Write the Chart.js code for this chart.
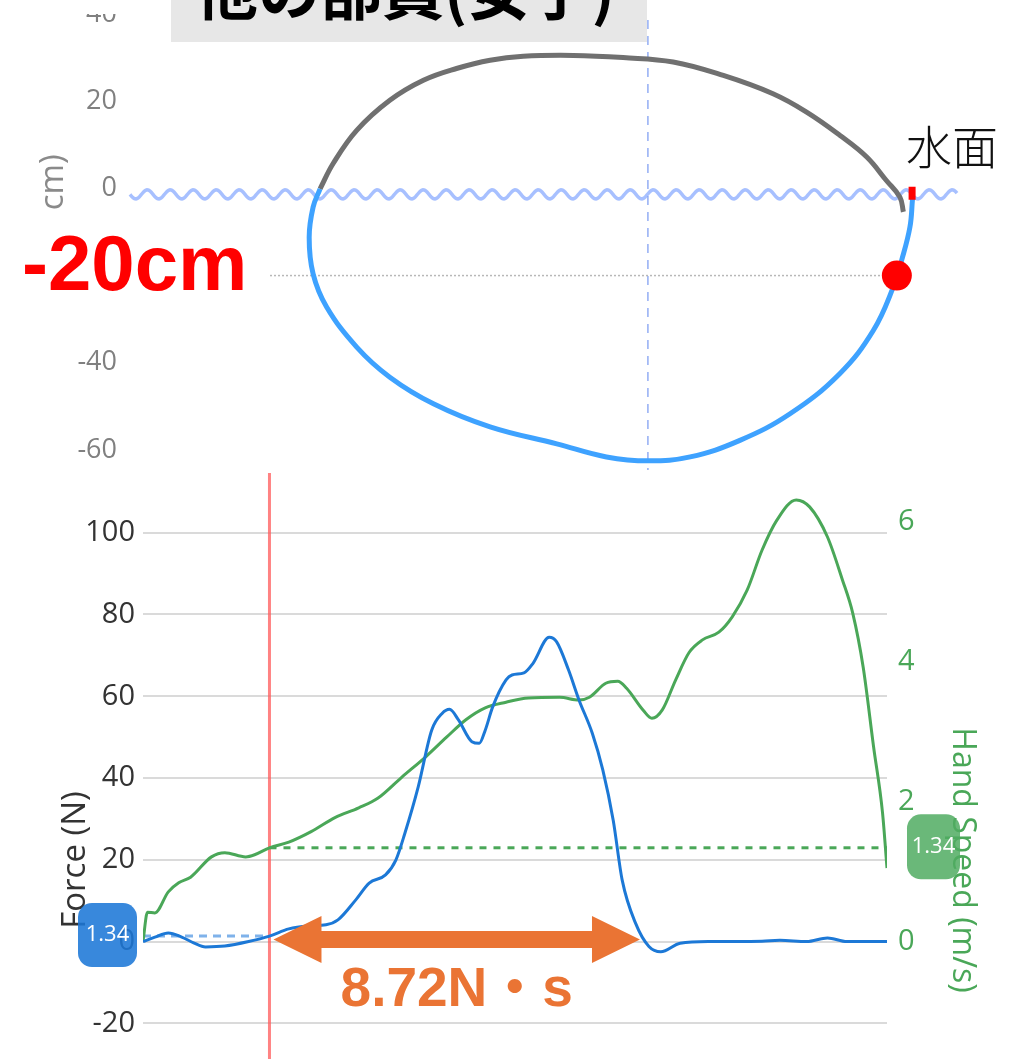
<!DOCTYPE html>
<html>
<head>
<meta charset="utf-8">
<script src="https://cdn.jsdelivr.net/npm/chart.js@4.4.1/dist/chart.umd.min.js"></script>
<style>
  html, body { margin: 0; padding: 0; background: #fff; width: 1012px; height: 1059px; overflow: hidden; position: relative; }
  #pathChart { position: absolute; left: 0; top: 14px; }
  #forceChart { position: absolute; left: 0; top: 473px; }
  #titleBox { position: absolute; left: 171px; top: 0; }
</style>
</head>
<body>
<canvas id="pathChart" width="1012" height="456"></canvas>
<canvas id="forceChart" width="1012" height="774"></canvas>
<svg id="titleBox" width="476" height="42">
  <rect width="476" height="42" fill="#e7e7e7"/>
  <text x="25" y="15" font-family="'Noto Sans CJK JP', sans-serif" font-weight="700" font-size="62" fill="#000">他の部員(女子)</text>
</svg>
<script>
const FONT = "'Open Sans', 'Noto Sans', sans-serif";

// ---- Hand path (cm): horizontal position, height ----
const airX = [-75.2, -72.2, -66.8, -59.2, -51.5, -43.9, -36.2, -28.6, -17.1, -5.7, 5.8, 17.3, 28.7, 36.4, 44.0, 50.2, 54.7, 57.8, 58.6];
const airY = [-0.1, 5.7, 13.3, 20.2, 24.8, 27.5, 29.4, 30.3, 30.5, 30.0, 29.0, 25.9, 21.7, 17.5, 12.2, 7.2, 1.8, -2.0, -5.4];
const waterX = [60.7, 60.1, 58.2, 56.3, 51.7, 44.0, 32.6, 21.1, 9.7, 0.1, -9.5, -20.9, -36.2, -49.2, -59.2, -66.8, -73.7, -76.8, -77.7, -76.8, -75.2];
const waterY = [-2.4, -8.9, -16.5, -22.6, -32.6, -42.5, -51.7, -57.8, -61.6, -62.5, -61.6, -58.6, -54.7, -49.4, -43.3, -36.4, -27.2, -19.6, -11.2, -4.3, -0.1];
const entryX = [60.6, 60.6];
const entryY = [0.4, -2.6];
const markerDepth = -20;
const markerX = 57.1;
const depthLineEnd = 55.5;
const depthLabel = '-20cm';
const surfaceLabel = '水面';

// ---- Force (N) and hand speed (m/s) against time (ms) ----
const forceTime = [0, 8, 17, 26, 34, 42, 55, 71, 85, 98, 111, 123, 131, 143, 152, 163, 170, 176, 185, 194, 201, 206, 212, 221, 226, 230, 235, 244, 248, 256, 262, 273, 278, 286, 293, 302, 309, 316, 322, 331, 340, 348, 361, 383, 416, 428, 446, 460, 473, 500];
const forceN = [0, 1.1, 2.1, 1.1, -0.3, -1.3, -1.1, 0, 1.34, 3.1, 3.8, 4.1, 5.3, 10.2, 14.3, 16.3, 20.0, 26.5, 37.9, 51.7, 55.8, 56.8, 54.2, 48.9, 48.5, 51.7, 57.4, 64.0, 65.2, 65.7, 68.0, 74.4, 73.3, 66.4, 59.1, 50.9, 42.0, 29.7, 15.1, 4.5, -1.2, -2.5, -0.4, 0, 0.1, 0.3, 0, 0.9, 0, 0];
const speedTime = [0, 3, 8, 17, 24, 32, 46, 55, 69, 75, 85, 98, 113, 129, 145, 158, 174, 190, 204, 217, 230, 244, 259, 280, 293, 300, 311, 319, 325, 336, 342, 349, 358, 367, 376, 387, 396, 406, 416, 426, 439, 448, 460, 470, 477, 484, 491, 497, 500];
const speedMS = [0, 0.42, 0.41, 0.71, 0.84, 0.92, 1.21, 1.27, 1.21, 1.24, 1.34, 1.42, 1.57, 1.77, 1.91, 2.05, 2.35, 2.64, 2.92, 3.17, 3.34, 3.42, 3.48, 3.49, 3.45, 3.49, 3.69, 3.72, 3.62, 3.31, 3.19, 3.31, 3.74, 4.13, 4.31, 4.42, 4.64, 5.02, 5.59, 6.02, 6.31, 6.21, 5.78, 5.17, 4.69, 3.92, 2.78, 1.84, 1.05];
const cursorTime = 85;
const cursorForce = 1.34;
const cursorSpeed = 1.34;
const impulseEnd = 334;
const impulseLabel = '8.72N・s';

const pts = (xs, ys) => xs.map((x, i) => ({ x, y: ys[i] }));
const keepMultiples = step => s => {
  s.ticks = s.ticks.filter(t => Math.abs(t.value / step - Math.round(t.value / step)) < 1e-9);
};

// ---------- upper chart: hand path ----------
const pathDecor = {
  id: 'pathDecor',
  beforeDatasetsDraw(chart) {
    const { ctx, chartArea: a, scales: { x, y } } = chart;
    ctx.save();
    // vertical reference at x = 0
    const cx = x.getPixelForValue(0);
    ctx.strokeStyle = 'rgba(110,145,240,0.75)';
    ctx.lineWidth = 1.5;
    ctx.setLineDash([9, 7]);
    ctx.beginPath(); ctx.moveTo(cx, a.top + 6); ctx.lineTo(cx, a.bottom); ctx.stroke();
    // depth reference line
    const dy = y.getPixelForValue(markerDepth);
    ctx.strokeStyle = '#b8b8b8';
    ctx.lineWidth = 1.5;
    ctx.setLineDash([2, 2]);
    ctx.beginPath(); ctx.moveTo(a.left, dy); ctx.lineTo(x.getPixelForValue(depthLineEnd), dy); ctx.stroke();
    // water surface symbol
    const wy = y.getPixelForValue(0) + 6;
    ctx.setLineDash([]);
    ctx.strokeStyle = 'rgba(120,158,255,0.65)';
    ctx.lineWidth = 3.5;
    ctx.beginPath();
    for (let px = a.left; px <= a.right; px++) {
      const yy = wy + 4.5 * Math.sin((px - a.left) / 23 * 2 * Math.PI);
      if (px === a.left) ctx.moveTo(px, yy); else ctx.lineTo(px, yy);
    }
    ctx.stroke();
    ctx.restore();
  },
  afterDraw(chart) {
    const { ctx, scales: { y } } = chart;
    const dy = y.getPixelForValue(markerDepth);
    ctx.save();
    ctx.fillStyle = '#fff';
    ctx.fillRect(0, dy - 66, 268, 126);
    ctx.fillStyle = '#ff0000';
    ctx.font = "bold 78px 'Liberation Sans', Arial, sans-serif";
    ctx.textAlign = 'left';
    ctx.textBaseline = 'alphabetic';
    ctx.fillText(depthLabel, 22, dy + 14);
    ctx.fillStyle = '#111';
    ctx.font = "300 46px 'Noto Sans CJK JP', sans-serif";
    ctx.textBaseline = 'middle';
    ctx.fillText(surfaceLabel, 906, y.getPixelForValue(0) - 42);
    ctx.restore();
  }
};

new Chart(document.getElementById('pathChart'), {
  type: 'scatter',
  data: {
    datasets: [
      { data: [{ x: markerX, y: markerDepth }], pointRadius: 15, pointBackgroundColor: '#ff0000', pointBorderWidth: 0, order: 0 },
      { data: pts(entryX, entryY), showLine: true, borderColor: '#ff0000', borderWidth: 7, borderCapStyle: 'butt', pointRadius: 0, order: 1 },
      { data: pts(waterX, waterY), showLine: true, borderColor: '#3ea2ff', borderWidth: 5, pointRadius: 0, tension: 0.4, order: 2 },
      { data: pts(airX, airY), showLine: true, borderColor: '#707070', borderWidth: 5, pointRadius: 0, tension: 0.4, order: 3 }
    ]
  },
  options: {
    responsive: false,
    animation: false,
    devicePixelRatio: 1,
    layout: { autoPadding: false, padding: { left: 30, right: 55, top: 0, bottom: 0 } },
    plugins: { legend: { display: false }, tooltip: { enabled: false } },
    scales: {
      x: { type: 'linear', display: false, min: -118.8, max: 70.9 },
      y: {
        min: -64.6, max: 40,
        grid: { display: false, drawTicks: false },
        border: { display: false },
        ticks: { stepSize: 20, includeBounds: false, padding: 13, color: '#808080', font: { family: FONT, size: 27 } },
        title: { display: true, text: 'Height (cm)', color: '#8a8a8a', font: { family: FONT, size: 33 }, padding: 4 },
        afterBuildTicks: keepMultiples(20),
        afterFit(s) { s.width = 100; s.paddingTop = 0; s.paddingBottom = 0; }
      }
    }
  },
  plugins: [pathDecor]
});

// ---------- lower chart: force and hand speed ----------
function roundRect(ctx, cx, cy, w, h, r) {
  const x = cx - w / 2, y = cy - h / 2;
  ctx.beginPath();
  ctx.moveTo(x + r, y);
  ctx.arcTo(x + w, y, x + w, y + h, r);
  ctx.arcTo(x + w, y + h, x, y + h, r);
  ctx.arcTo(x, y + h, x, y, r);
  ctx.arcTo(x, y, x + w, y, r);
  ctx.closePath();
}

const forceDecor = {
  id: 'forceDecor',
  beforeDatasetsDraw(chart) {
    const { ctx, chartArea: a, scales: { x } } = chart;
    const cx = x.getPixelForValue(cursorTime);
    ctx.save();
    ctx.strokeStyle = 'rgba(255,90,90,0.75)';
    ctx.lineWidth = 3;
    ctx.beginPath(); ctx.moveTo(cx, a.top); ctx.lineTo(cx, a.bottom); ctx.stroke();
    ctx.restore();
  },
  afterDatasetsDraw(chart) {
    const { ctx, scales: { x, y } } = chart;
    const x1 = x.getPixelForValue(cursorTime) + 4;
    const x2 = x.getPixelForValue(impulseEnd);
    const yc = y.getPixelForValue(0) - 2;
    const head = 48, hh = 23.5, sh = 8.5;
    ctx.save();
    ctx.fillStyle = '#ea7434';
    ctx.beginPath();
    ctx.moveTo(x1, yc);
    ctx.lineTo(x1 + head, yc - hh);
    ctx.lineTo(x1 + head, yc - sh);
    ctx.lineTo(x2 - head, yc - sh);
    ctx.lineTo(x2 - head, yc - hh);
    ctx.lineTo(x2, yc);
    ctx.lineTo(x2 - head, yc + hh);
    ctx.lineTo(x2 - head, yc + sh);
    ctx.lineTo(x1 + head, yc + sh);
    ctx.lineTo(x1 + head, yc + hh);
    ctx.closePath();
    ctx.fill();
    ctx.font = "bold 55px 'Liberation Sans', Arial, 'Noto Sans CJK JP', sans-serif";
    ctx.textAlign = 'center';
    ctx.textBaseline = 'middle';
    ctx.fillText(impulseLabel, (x1 + x2) / 2, yc + 51);
    ctx.restore();
  },
  afterDraw(chart) {
    const { ctx, chartArea: a, scales: { y, y1 } } = chart;
    ctx.save();
    ctx.font = `22px ${FONT}`;
    ctx.textAlign = 'center';
    ctx.textBaseline = 'middle';
    // force readout
    const fy = y.getPixelForValue(cursorForce) - 1;
    ctx.fillStyle = 'rgba(28,120,215,0.88)';
    roundRect(ctx, a.left - 35.5, fy, 59, 64, 14); ctx.fill();
    ctx.fillStyle = '#fff';
    ctx.fillText(cursorForce.toFixed(2), a.left - 35.5, fy);
    // speed readout
    const sy = y1.getPixelForValue(cursorSpeed) - 1;
    ctx.fillStyle = 'rgba(80,172,98,0.85)';
    roundRect(ctx, a.right + 46.5, sy, 53, 65, 14); ctx.fill();
    ctx.fillStyle = '#fff';
    ctx.fillText(cursorSpeed.toFixed(2), a.right + 46.5, sy);
    ctx.restore();
  }
};

new Chart(document.getElementById('forceChart'), {
  type: 'line',
  data: {
    datasets: [
      { data: pts(forceTime, forceN), yAxisID: 'y', borderColor: '#1c78d6', borderWidth: 3, cubicInterpolationMode: 'monotone', order: 1 },
      { data: pts(speedTime, speedMS), yAxisID: 'y1', borderColor: '#4aa758', borderWidth: 3, cubicInterpolationMode: 'monotone', order: 2 },
      { data: [{ x: 0, y: cursorForce }, { x: cursorTime, y: cursorForce }], yAxisID: 'y', borderColor: '#7fb2ea', borderWidth: 3, borderDash: [8, 6], order: 3 },
      { data: [{ x: cursorTime, y: cursorSpeed }, { x: 500, y: cursorSpeed }], yAxisID: 'y1', borderColor: '#4aa758', borderWidth: 3, borderDash: [7, 7], order: 3 }
    ]
  },
  options: {
    responsive: false,
    animation: false,
    devicePixelRatio: 1,
    elements: { point: { radius: 0 } },
    layout: { autoPadding: false, padding: { left: 52, right: 27, top: 0, bottom: 0 } },
    plugins: { legend: { display: false }, tooltip: { enabled: false } },
    scales: {
      x: { type: 'linear', display: false, min: 0, max: 500 },
      y: {
        position: 'left', min: -74.7, max: 114.6,
        grid: { color: '#dadada', lineWidth: 2, drawTicks: false },
        border: { display: false },
        ticks: { stepSize: 20, includeBounds: false, padding: 8, color: '#333', font: { family: FONT, size: 29 } },
        title: { display: true, text: 'Force (N)', color: '#333', font: { family: FONT, size: 33 }, padding: 4 },
        afterBuildTicks: keepMultiples(20),
        afterFit(s) { s.width = 91; s.paddingTop = 0; s.paddingBottom = 0; }
      },
      y1: {
        position: 'right', min: -4.363, max: 6.694,
        grid: { display: false, drawTicks: false },
        border: { display: false },
        ticks: { stepSize: 2, includeBounds: false, padding: 11, color: '#4aa758', font: { family: FONT, size: 29 } },
        title: { display: true, text: 'Hand Speed (m/s)', color: '#4aa758', font: { family: FONT, size: 32 }, padding: 4 },
        afterBuildTicks: keepMultiples(2),
        afterFit(s) { s.width = 98; s.paddingTop = 0; s.paddingBottom = 0; }
      }
    }
  },
  plugins: [forceDecor]
});
</script>
</body>
</html>
